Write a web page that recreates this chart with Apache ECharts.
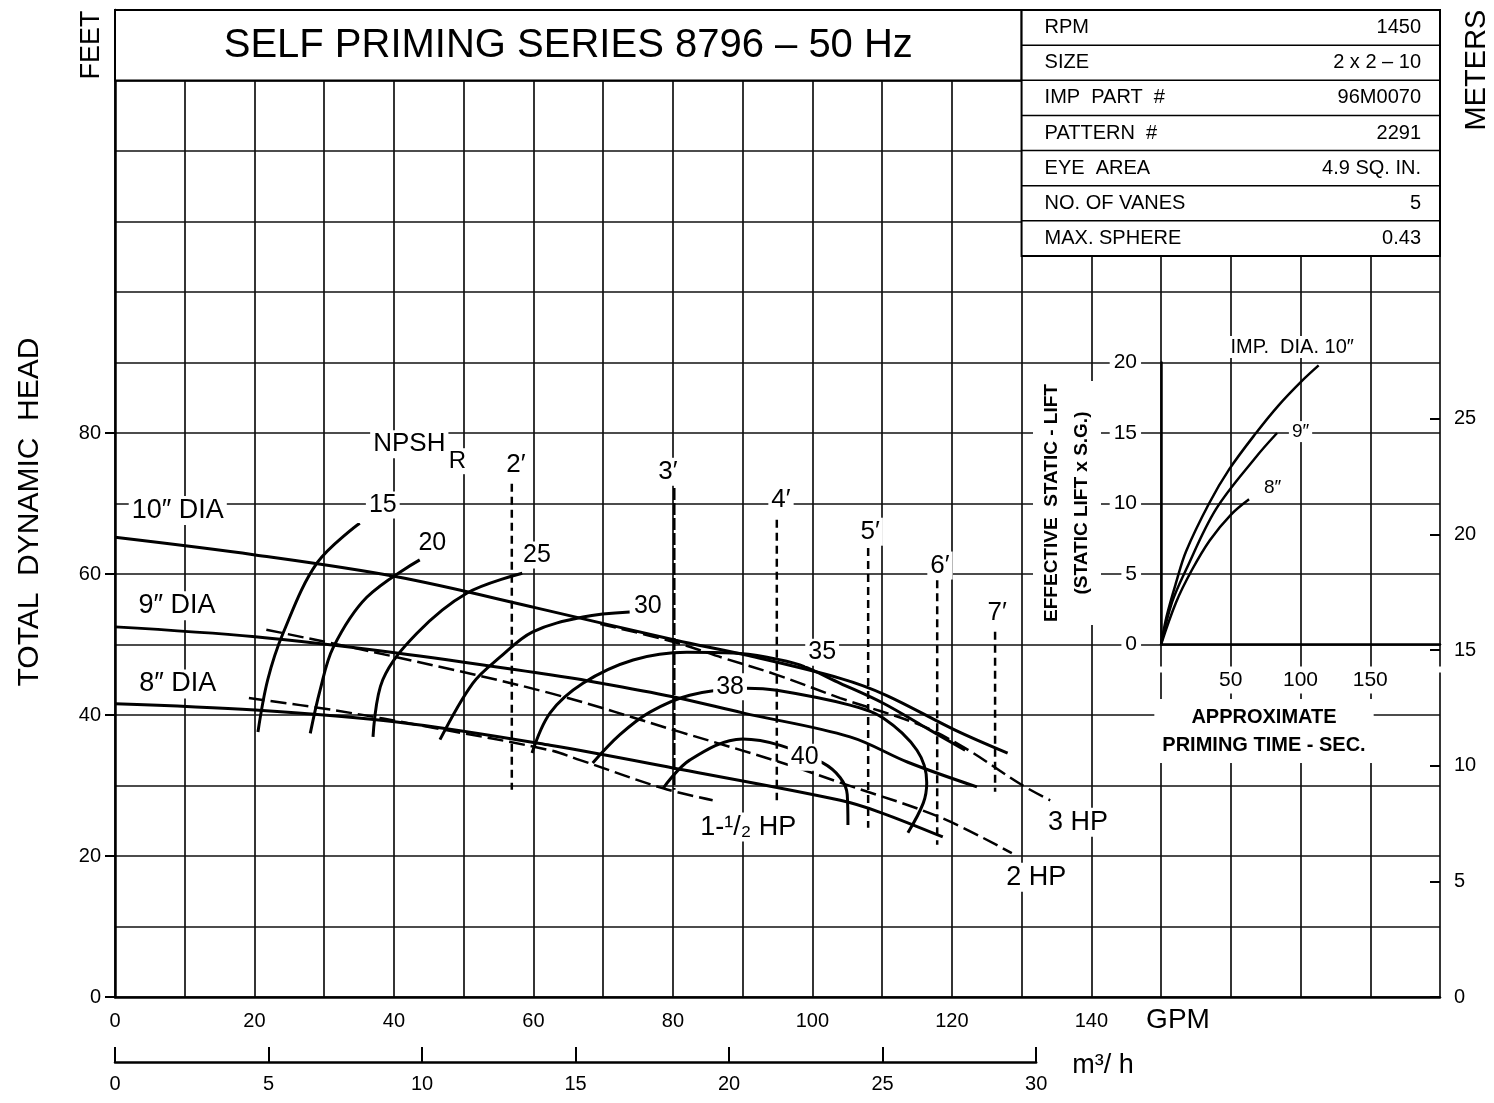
<!DOCTYPE html>
<html>
<head>
<meta charset="utf-8">
<script src="https://cdn.jsdelivr.net/npm/echarts@6/dist/echarts.min.js"></script>
<style>
html,body{margin:0;padding:0;background:#fff}
#chart{width:1494px;height:1103px}
</style>
</head>
<body>
<div id="chart"></div>
<script>
// head curves  [GPM, feet]
const dia10 = [[0,65.2],[20.1,62.7],[40.4,59.6],[60.4,55.2],[80.4,50.6],[90.5,48.5],[104,45.2],[110.6,42.8],[120.4,37.9],[128,34.6]];
const dia9  = [[0,52.5],[20.1,51.1],[40.4,48.8],[62.4,45.7],[68.1,44.8],[80,42.6],[90,40.3],[105.4,36.9],[113.7,33.3],[123.6,29.8]];
const dia8  = [[0,41.6],[20.1,40.7],[40.4,39],[62.4,35.7],[81,32.3],[104,27.9],[109.7,26.2],[118.7,22.7]];

// motor limit lines
const hp3   = [[69.6,52.9],[80,50.4],[87.2,48.1],[94.9,45.7],[104,42.4],[115.4,38.6],[121.9,35.3],[130,30.1],[134.1,27.9]];
const hp2   = [[21.7,52.1],[40.4,48.2],[62.4,43.1],[81,37.6],[95.4,33.3],[104,30.4],[118.3,25.5],[128.6,20.4]];
const hp1_5 = [[19.2,42.4],[31.3,40.7],[45.6,38.2],[62.4,35],[66.7,33.6],[78.6,29.6],[85.7,27.9]];

// efficiency contours
const eff15 = [[20.5,37.6],[21.9,45],[24.1,51.6],[29,61.6],[35.1,67.2]];
const eff20 = [[28,37.4],[29.4,43.5],[31.3,49.6],[36.1,56.7],[43.7,62]];
const eff25 = [[37,36.9],[38.4,45],[43.3,51.6],[50.5,57.3],[58.4,60.1]];
const eff30 = [[46.6,36.5],[51.3,44.5],[55.2,48.2],[59.9,51.8],[67.1,53.9],[73.8,54.6]];
const eff35 = [[59.8,34.6],[62.4,40.3],[67.1,44.5],[74.3,47.8],[82,48.9],[88.6,48.8],[93.5,48.2],[98.2,47.1],[104,44.5],[110.1,41.7],[116.1,38.3],[121.9,35]];
const eff38 = [[68.5,33.2],[72.4,37.2],[76.7,40.4],[82.4,42.8],[90.6,43.8],[94.9,43.5],[105.4,41.4],[110.1,39.6],[115,35],[116.4,30.4],[115.9,27.5],[113.7,23.3]];
const eff40 = [[78.6,29.6],[82.4,33.6],[90,36.6],[95.4,35.7],[101.5,33.2],[104,31.1],[105,28.7],[105.1,24.4]];

// NPSHr verticals: GPM, top ft, bottom ft
const npshGpm    = [56.9, 80.2, 94.9, 108, 117.9, 126.2];
const npshTop    = [72.8, 72.2, 67.7, 63.7, 59.1, 51.8];
const npshBottom = [29.4, 29.4, 27.9, 24.0, 21.6, 29.1];
const npshNames  = ['2′','3′','4′','5′','6′','7′'];
const npshLabelAt = [[57.5,75.5],[79.3,74.5],[95.5,70.5],[108.3,66],[118.3,61.2],[126.5,54.5]];

const effLabels = [[38.4,69.8,'15'],[45.5,64.4,'20'],[60.5,62.7,'25'],[76.4,55.5,'30'],[101.4,48.9,'35'],[88.2,44,'38'],[98.9,34,'40']];
const diaLabels = [[9,69,'10″ DIA'],[8.9,55.5,'9″ DIA'],[9,44.4,'8″ DIA']];
const hpLabels = [[138.1,24.8,'3 HP'],[132.1,17,'2 HP'],[90.8,24.1,'1-¹/₂ HP']];
const npshTitle = [[42.2,78.4,'NPSH']];
const subLabels = [[49.1,76,'R']];

// priming time inset  [seconds, feet]
const prime10 = [[0,0],[4,2],[10.8,4.4],[17.9,6.6],[34.4,10],[48.7,12.4],[68.1,15],[84.6,17],[101,18.7],[113,19.8]];
const prime9  = [[0,0],[7.9,3],[17.9,5.3],[39.4,9.6],[68.1,13.3],[83.2,15]];
const prime8  = [[0,0],[10.8,3],[22.2,5.3],[35,7.4],[50,9.2],[63.1,10.3]];
const primeTitle = [[94,21.1,'IMP.  DIA. 10″']];
const primeLabels = [[100,15.1,'9″'],[80,11.1,'8″']];

// axis tick labels
const gpmTicks = [0,20,40,60,80,100,120,140];
const primeTicks = [50,100,150];

// data sheet
const sheetKeys = ['RPM','SIZE','IMP  PART  #','PATTERN  #','EYE  AREA','NO. OF VANES','MAX. SPHERE'];
const sheetVals = ['1450','2 x 2 – 10','96M0070','2291','4.9 SQ. IN.','5','0.43'];

const FONT = '"Liberation Sans", Arial, "DejaVu Sans", sans-serif';
const L = 115, T = 10, R = 1440, B = 997;
const GPM_MAX = 190, FT_MAX = 140;
const ppg = (R - L) / GPM_MAX;
const ppf = (B - T) / FT_MAX;
const M_TO_FT = 3.2808, M3H_TO_GPM = 4.4029;

function curve(data, width, type, xi, yi){
    return {type:'line', data:data, smooth:0.35, symbol:'none', silent:true,
        xAxisIndex:xi||0, yAxisIndex:yi||0,
        lineStyle:{color:'#000', width:width, type:type||'solid'}, z:2};
}
function labels(items, size, xi, yi){
    return {type:'scatter', symbolSize:0, silent:true, clip:false, z:6,
        xAxisIndex:xi||0, yAxisIndex:yi||0,
        itemStyle:{opacity:1},
        data:items.map(d => ({value:[d[0],d[1]], label:{formatter:d[2]}})),
        label:{show:true, position:'inside', color:'#000', opacity:1, fontFamily:FONT, fontSize:size,
            backgroundColor:'#fff', padding:[1,3]}};
}

const chart = echarts.init(document.getElementById('chart'));

const series = [
    curve(dia10, 3), curve(dia9, 3), curve(dia8, 3),
    curve(hp3, 2.5, [16,6]), curve(hp2, 2.5, [16,6]), curve(hp1_5, 2.5, [16,6]),
    curve(eff15, 3), curve(eff20, 3), curve(eff25, 3), curve(eff30, 3),
    curve(eff35, 3), curve(eff38, 3), curve(eff40, 3)
];
npshGpm.forEach((g, i) => {
    series.push({type:'line', data:[[g,npshTop[i]],[g,npshBottom[i]]], symbol:'none', silent:true,
        lineStyle:{color:'#000', width:2.5, type: i === 1 ? [12,3] : [8,5]}, z:2});
});
series.push(labels(npshLabelAt.map((p, i) => [p[0], p[1], npshNames[i]]), 26));
series.push(labels(effLabels, 25));
series.push(labels(diaLabels, 27));
series.push(labels(hpLabels, 27));
series.push(labels(npshTitle, 26));
series.push(labels(subLabels, 24));
series.push(curve(prime10, 2.5, 'solid', 4, 4), curve(prime9, 2.5, 'solid', 4, 4), curve(prime8, 2.5, 'solid', 4, 4));
series.push(labels(primeTitle, 20, 4, 4));
series.push(labels(primeLabels, 19, 4, 4));

const hidden = {show:false};
const gridLine = {show:true, lineStyle:{color:'#111', width:1.7}};
const axisLine = {show:true, lineStyle:{color:'#000', width:2.5}};

const rowH = (256 - T) / sheetKeys.length;
const sheetX = L + 130 * ppg;
const graphics = [
    {type:'rect', z:50, shape:{x:L, y:T, width:130*ppg, height:(B-130*ppf)-T}, style:{fill:'#fff', stroke:'#000', lineWidth:2}},
    {type:'text', z:51, x:L + 130*ppg/2, y:46, style:{text:'SELF PRIMING SERIES 8796 – 50 Hz', font:'40px ' + FONT, fill:'#000', textAlign:'center', textVerticalAlign:'middle'}},
    {type:'rect', z:50, shape:{x:sheetX, y:T, width:R-sheetX, height:256-T}, style:{fill:'#fff', stroke:'#000', lineWidth:2}}
];
sheetKeys.forEach((k, i) => {
    const cy = T + (i + 0.5) * rowH;
    if (i > 0) graphics.push({type:'line', z:51, shape:{x1:sheetX, y1:T+i*rowH, x2:R, y2:T+i*rowH}, style:{stroke:'#000', lineWidth:1.5}});
    graphics.push({type:'text', z:52, x:sheetX + 23, y:cy, style:{text:k, font:'20px ' + FONT, fill:'#000', textVerticalAlign:'middle'}});
    graphics.push({type:'text', z:52, x:R - 19, y:cy, style:{text:sheetVals[i], font:'20px ' + FONT, fill:'#000', textAlign:'right', textVerticalAlign:'middle'}});
});
graphics.push(
    {type:'text', z:52, x:92, y:45, rotation:Math.PI/2, style:{text:'FEET', font:'27px ' + FONT, fill:'#000', textAlign:'center', textVerticalAlign:'middle'}},
    {type:'text', z:52, x:1477, y:70, rotation:Math.PI/2, style:{text:'METERS', font:'29px ' + FONT, fill:'#000', textAlign:'center', textVerticalAlign:'middle'}},
    {type:'text', z:52, x:30, y:512, rotation:Math.PI/2, style:{text:'TOTAL  DYNAMIC  HEAD', font:'30px ' + FONT, fill:'#000', textAlign:'center', textVerticalAlign:'middle'}},
    {type:'text', z:52, x:1178, y:1020, style:{text:'GPM', font:'28px ' + FONT, fill:'#000', textAlign:'center', textVerticalAlign:'middle'}},
    {type:'text', z:52, x:1103, y:1066, style:{text:'m³/ h', font:'27px ' + FONT, fill:'#000', textAlign:'center', textVerticalAlign:'middle'}},
    {type:'text', z:52, x:1067, y:503, rotation:Math.PI/2, style:{text:'EFFECTIVE  STATIC - LIFT\n(STATIC LIFT x S.G.)', font:'bold 19px ' + FONT, fill:'#000', textAlign:'center', textVerticalAlign:'middle', lineHeight:30, backgroundColor:'#fff', padding:[4,3]}},
    {type:'text', z:52, x:1264, y:731, style:{text:'APPROXIMATE\nPRIMING TIME - SEC.', font:'bold 20px ' + FONT, fill:'#000', textAlign:'center', textVerticalAlign:'middle', lineHeight:28, backgroundColor:'#fff', padding:[4,8]}}
);

const option = {
    animation:false,
    backgroundColor:'#fff',
    grid:[
        {left:L, top:T, width:R-L, height:B-T},
        {left:L, top:B-80*ppf, width:10, height:80*ppf},
        {left:R-10, top:B-25*M_TO_FT*ppf, width:10, height:25*M_TO_FT*ppf},
        {left:L, top:1048, width:30*M3H_TO_GPM*ppg, height:14},
        {left:L+150*ppg, top:B-90*ppf, width:40*ppg, height:40*ppf}
    ],
    xAxis:[
        {gridIndex:0, type:'value', min:0, max:GPM_MAX, interval:10, axisLine:axisLine, axisTick:hidden, splitLine:gridLine,
            axisLabel:{margin:14, color:'#000', fontFamily:FONT, fontSize:20, formatter:v => gpmTicks.includes(v) ? String(v) : ''}},
        {gridIndex:1, type:'value', show:false},
        {gridIndex:2, type:'value', show:false},
        {gridIndex:3, type:'value', min:0, max:30, interval:5, axisLine:axisLine, splitLine:hidden,
            axisTick:{show:true, inside:true, length:15, lineStyle:{color:'#000', width:2}},
            axisLabel:{margin:12, color:'#000', fontFamily:FONT, fontSize:20}},
        {gridIndex:4, type:'value', min:0, max:200, interval:50, z:3, axisLine:axisLine, axisTick:hidden, splitLine:hidden,
            axisLabel:{margin:22, color:'#000', fontFamily:FONT, fontSize:21, backgroundColor:'#fff', padding:[3,5],
                formatter:v => primeTicks.includes(v) ? String(v) : ''}}
    ],
    yAxis:[
        {gridIndex:0, type:'value', min:0, max:FT_MAX, interval:10, axisLine:axisLine, axisTick:hidden, axisLabel:hidden, splitLine:gridLine},
        {gridIndex:1, type:'value', min:0, max:80, interval:20, axisLine:hidden, splitLine:hidden,
            axisTick:{show:true, length:10, lineStyle:{color:'#000', width:2}},
            axisLabel:{margin:14, color:'#000', fontFamily:FONT, fontSize:20}},
        {gridIndex:2, type:'value', position:'right', min:0, max:25, interval:5, axisLine:hidden, splitLine:hidden,
            axisTick:{show:true, length:10, lineStyle:{color:'#000', width:2}},
            axisLabel:{margin:14, color:'#000', fontFamily:FONT, fontSize:20}},
        {gridIndex:3, type:'value', show:false},
        {gridIndex:4, type:'value', min:0, max:20, interval:5, z:3, axisLine:axisLine, axisTick:hidden, splitLine:hidden,
            axisLabel:{margin:20, color:'#000', fontFamily:FONT, fontSize:21, backgroundColor:'#fff', padding:[1,4]}}
    ],
    graphic:graphics,
    series:series
};
chart.setOption(option);
</script>
</body>
</html>
